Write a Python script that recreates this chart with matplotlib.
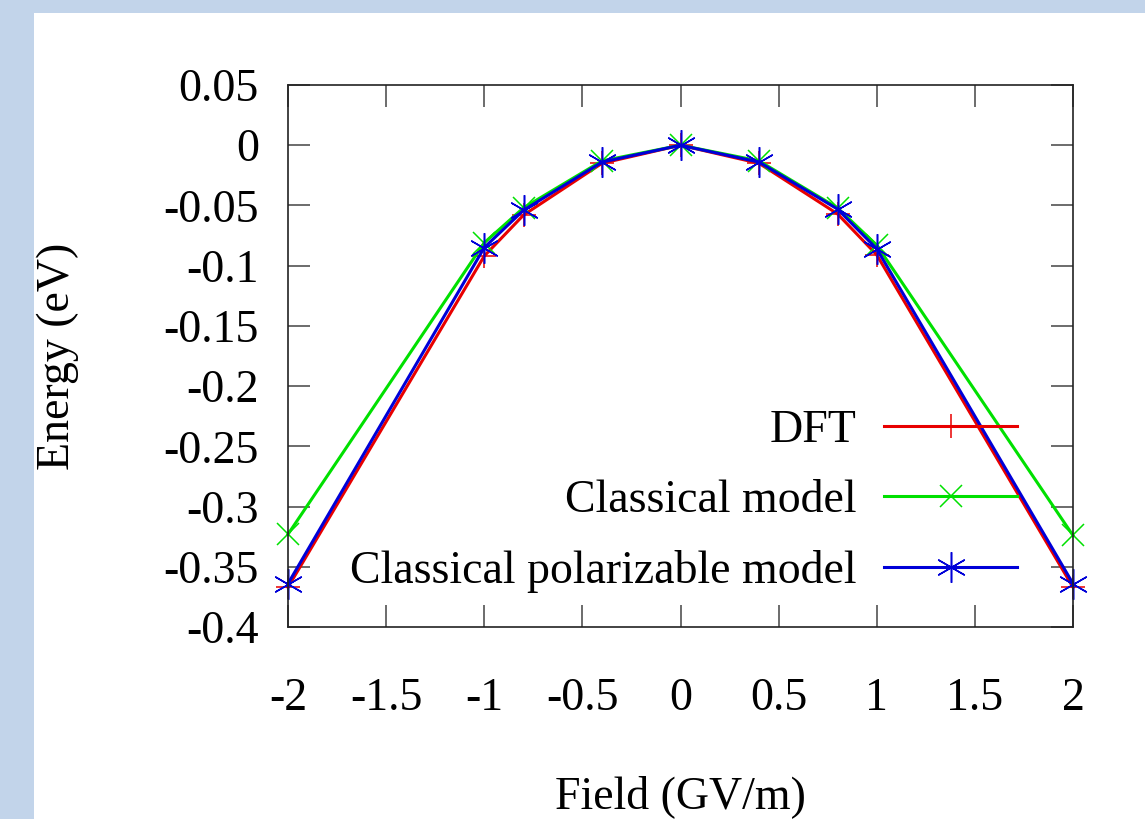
import matplotlib
matplotlib.use('Agg')
import matplotlib.pyplot as plt
from matplotlib.patches import Rectangle

# Energy vs applied field
field = [-2, -1, -0.8, -0.4, 0, 0.4, 0.8, 1, 2]
dft = [-0.367, -0.092, -0.058, -0.015, 0, -0.015, -0.057, -0.091, -0.367]
classical = [-0.323, -0.081, -0.052, -0.013, 0, -0.013, -0.052, -0.083, -0.324]
polarizable = [-0.364, -0.085, -0.054, -0.014, 0, -0.014, -0.053, -0.086, -0.364]

xticks = [-2, -1.5, -1, -0.5, 0, 0.5, 1, 1.5, 2]
xticklabels = ['-2', '-1.5', '-1', '-0.5', '0', '0.5', '1', '1.5', '2']
yticks = [0.05, 0, -0.05, -0.1, -0.15, -0.2, -0.25, -0.3, -0.35, -0.4]
yticklabels = ['0.05', '0', '-0.05', '-0.1', '-0.15', '-0.2', '-0.25', '-0.3', '-0.35', '-0.4']

plt.rcParams['font.family'] = ['Liberation Serif', 'DejaVu Serif']
fs = 33

W, H = 1145, 819
fig = plt.figure(figsize=(W / 100, H / 100), dpi=100, facecolor='#c2d4ea')
# white page area behind the plot
fig.patches.append(Rectangle((34 / W, 0), 1, 1 - 13 / H, transform=fig.transFigure,
                             facecolor='white', edgecolor='none', zorder=-5))

ax = fig.add_axes([288 / W, 1 - 627 / H, (1073 - 288) / W, (627 - 85) / H])
ax.set_facecolor('white')

ax.plot(field, dft, color='#e80000', marker='+', markersize=17, markeredgewidth=1.1,
        linewidth=2.2, clip_on=False, label='DFT')
ax.plot(field, classical, color='#00e000', marker='x', markersize=16, markeredgewidth=1.1,
        linewidth=2.2, clip_on=False, label='Classical model')
ax.plot(field, polarizable, color='#0000d8', marker=(6, 2, 0), markersize=22, markeredgewidth=1.1,
        linewidth=2.2, clip_on=False, label='Classical polarizable model')

ax.set_xlim(-2, 2)
ax.set_ylim(-0.4, 0.05)
ax.set_xticks(xticks)
ax.set_xticklabels(xticklabels)
ax.set_yticks(yticks)
ax.set_yticklabels(yticklabels)
ax.tick_params(direction='in', length=16, width=1.1, color='#444444',
               top=True, right=True, labelsize=fs)
ax.tick_params(axis='x', pad=36)
ax.tick_params(axis='y', pad=21)
for s in ax.spines.values():
    s.set_linewidth(1.2)
    s.set_color('#222222')

fig.text(58 / W, 1 - 356 / H, 'Energy (eV)', rotation=90, ha='center', va='center', fontsize=fs)
fig.text(680 / W, 1 - 797 / H, 'Field (GV/m)', ha='center', va='center', fontsize=fs)

ax.legend(loc='upper right', bbox_to_anchor=(1017 / W, 1 - 410 / H),
          bbox_transform=fig.transFigure, frameon=False, markerfirst=False,
          numpoints=1, fontsize=fs, handlelength=2.9, handletextpad=0.6,
          labelspacing=0.6, borderpad=0, borderaxespad=0)

fig.savefig('out.png', dpi=100, facecolor=fig.get_facecolor())
